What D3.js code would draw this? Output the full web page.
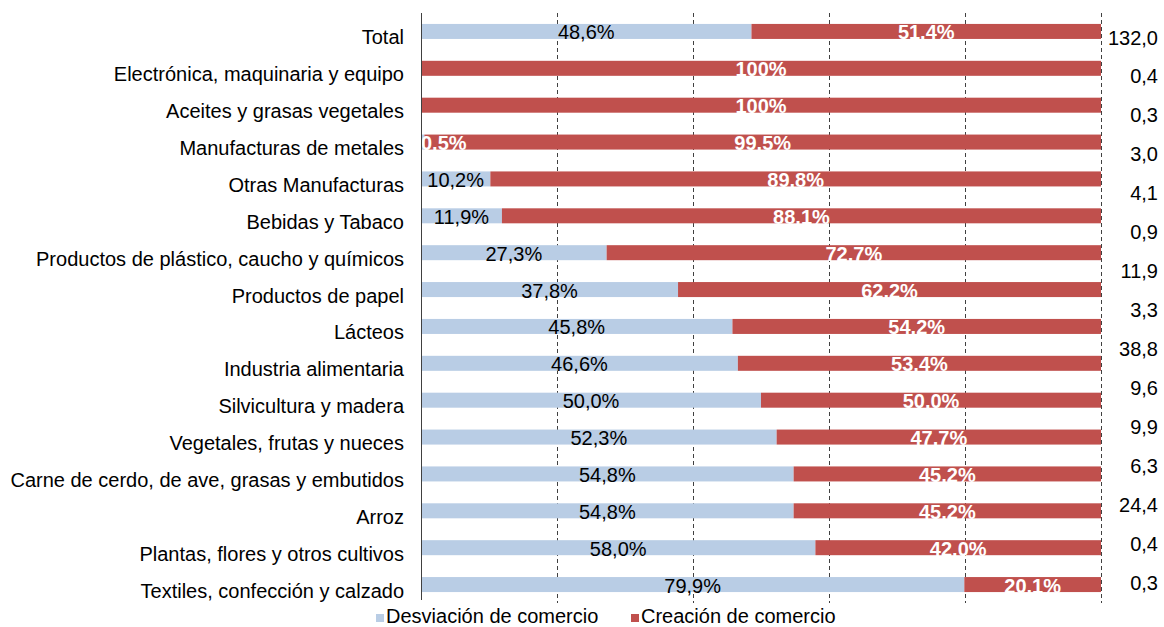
<!DOCTYPE html>
<html>
<head>
<meta charset="utf-8">
<script src="https://cdn.jsdelivr.net/npm/d3@7"></script>
<style>
  body { margin: 0; background: #fff; }
  svg { display: block; font-family: "Liberation Sans", Arial, sans-serif; }
</style>
</head>
<body>
<svg width="1164" height="627"></svg>
<script>
var categories = [
	"Total",
	"Electrónica, maquinaria y equipo",
	"Aceites y grasas vegetales",
	"Manufacturas de metales",
	"Otras Manufacturas",
	"Bebidas y Tabaco",
	"Productos de plástico, caucho y químicos",
	"Productos de papel",
	"Lácteos",
	"Industria alimentaria",
	"Silvicultura y madera",
	"Vegetales, frutas y nueces",
	"Carne de cerdo, de ave, grasas y embutidos",
	"Arroz",
	"Plantas, flores y otros cultivos",
	"Textiles, confección y calzado"
];
var desviacion = [48.6, 0, 0, 0.5, 10.2, 11.9, 27.3, 37.8, 45.8, 46.6, 50.0, 52.3, 54.8, 54.8, 58.0, 79.9];
var creacion = [51.4, 100, 100, 99.5, 89.8, 88.1, 72.7, 62.2, 54.2, 53.4, 50.0, 47.7, 45.2, 45.2, 42.0, 20.1];
// column of amounts printed at the right edge
var montos = ["132,0", "0,4", "0,3", "3,0", "4,1", "0,9", "11,9", "3,3", "38,8", "9,6", "9,9", "6,3", "24,4", "0,4", "0,3"];
var xTicks = [0, 20, 40, 60, 80, 100];
var seriesNames = ["Desviación de comercio", "Creación de comercio"];
var colors = ["#B9CDE5", "#C0504D"];

var svg = d3.select("svg");

var table = categories.map(function (c, i) {
	return { cat: c, desv: desviacion[i], crea: creacion[i] };
});

var x = d3.scaleLinear().domain([0, 100]).range([421, 1101]);
var y = d3.scaleBand()
	.domain(categories)
	.range([13, 603])
	.paddingInner(0.593)
	.paddingOuter(0.2965);

var fmt = function (v) {
	if (v === 100) return "100%";
	return d3.format(".1f")(v).replace(".", ",") + "%";
};

// dashed gridlines
svg.append("g")
	.selectAll("line")
	.data(xTicks.slice(1))
	.enter()
	.append("line")
	.attr("x1", (d) => Math.round(x(d)) + 0.5)
	.attr("x2", (d) => Math.round(x(d)) + 0.5)
	.attr("y1", 13)
	.attr("y2", 603)
	.style("stroke", "#404040")
	.style("stroke-dasharray", "4,3");

var stack = d3.stack().keys(["desv", "crea"])(table);

var layers = svg.append("g")
	.selectAll("g")
	.data(stack)
	.enter()
	.append("g")
	.style("fill", (d, i) => colors[i]);

layers.selectAll("rect")
	.data((d) => d)
	.enter()
	.append("rect")
	.attr("x", (d) => x(d[0]))
	.attr("width", (d) => x(d[1]) - x(d[0]))
	.attr("y", (d) => y(d.data.cat))
	.attr("height", y.bandwidth());

// axis line
svg.append("line")
	.attr("x1", 421.5).attr("x2", 421.5)
	.attr("y1", 13).attr("y2", 600)
	.style("stroke", "#404040");

svg.append("clipPath").attr("id", "plot")
	.append("rect").attr("x", 422).attr("y", 0).attr("width", 700).attr("height", 627);

// labels inside the bars
var lab = svg.append("g").attr("clip-path", "url(#plot)").style("font-size", "20px");
table.forEach(function (d) {
	var cy = y(d.cat) + y.bandwidth() / 2 + 8;
	if (d.desv >= 5) {
		lab.append("text")
			.attr("x", x(d.desv / 2))
			.attr("y", cy)
			.attr("text-anchor", "middle")
			.style("fill", "#000")
			.text(fmt(d.desv));
	} else if (d.desv > 0) {
		// tiny segment: label pushed against the axis
		lab.append("text")
			.attr("x", x(0))
			.attr("y", cy)
			.style("fill", "#fff")
			.style("font-weight", "bold")
			.text(fmt(d.desv));
	}
	lab.append("text")
		.attr("x", x(d.desv + d.crea / 2))
		.attr("y", cy)
		.attr("text-anchor", "middle")
		.style("fill", "#fff")
		.style("font-weight", "bold")
		.text(fmt(d.crea));
});

// category labels
svg.append("g")
	.style("font-size", "20px")
	.selectAll("text")
	.data(categories)
	.enter()
	.append("text")
	.attr("x", 404)
	.attr("y", (d) => y(d) + y.bandwidth() / 2 + 13)
	.attr("text-anchor", "end")
	.style("fill", "#000")
	.text((d) => d);

// right column of amounts
var yM = d3.scaleLinear().domain([0, montos.length - 1]).range([37.5, 583]);
svg.append("g")
	.style("font-size", "20px")
	.selectAll("text")
	.data(montos)
	.enter()
	.append("text")
	.attr("x", 1158)
	.attr("y", (d, i) => yM(i) + 7)
	.attr("text-anchor", "end")
	.style("fill", "#000")
	.text((d) => d);

// legend
var legendX = [376, 631];
var legend = svg.append("g")
	.selectAll("g")
	.data(seriesNames)
	.enter()
	.append("g")
	.attr("transform", (d, i) => "translate(" + legendX[i] + ",614)");
legend.append("rect")
	.attr("width", 8).attr("height", 8)
	.style("fill", (d, i) => colors[i]);
legend.append("text")
	.attr("x", 10).attr("y", 9)
	.style("font-size", "20px")
	.style("fill", "#000")
	.text((d) => d);
</script>
</body>
</html>
